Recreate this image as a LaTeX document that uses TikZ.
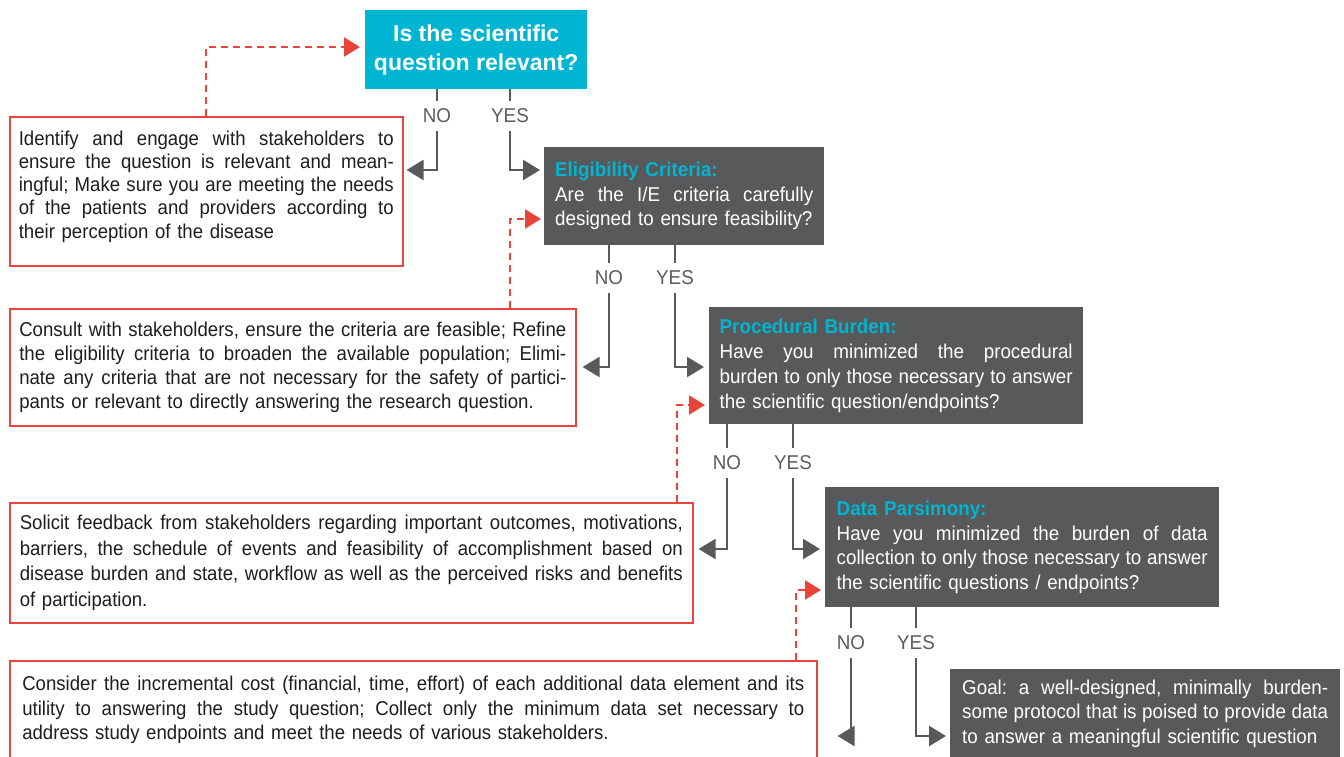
\documentclass[tikz,border=0pt]{standalone}
\usepackage{fontspec}
\setmainfont{Liberation Sans}[FakeStretch=0.94]
\newfontfamily\redfont{Liberation Sans}[FakeStretch=0.93]
\newfontfamily\titlefont{Liberation Sans}
\usetikzlibrary{arrows.meta,calc}
\definecolor{ccyan}{RGB}{0,181,209}
\definecolor{cgray}{RGB}{88,89,91}
\definecolor{clab}{RGB}{92,92,92}
\definecolor{cred}{RGB}{234,67,58}
\definecolor{ctext}{RGB}{30,30,30}
\frenchspacing
\newlength\jwidth
\newcommand\jline[1]{\makebox[\jwidth][s]{\frenchspacing\spaceskip=0pt\xspaceskip=0pt\relax #1}}
\begin{document}
\begin{tikzpicture}[x=1pt,y=-1pt,
  jw/.code={\setlength\jwidth{#1}},
  tw/.style={text width=#1, jw=#1},
  redbox/.style={draw=cred, line width=1.6pt, anchor=north west, inner xsep=9pt, inner ysep=0pt, align=left, text=ctext},
  graybox/.style={fill=cgray, anchor=north west, inner xsep=11pt, inner ysep=0pt, align=left, text=white},
  yn/.style={text=clab, font=\fontsize{20}{24}\selectfont, inner sep=0pt, minimum height=30pt},
  stem/.style={draw=cgray, line width=2.4pt},
  flow/.style={draw=cgray, line width=2.4pt, -{Triangle[length=17pt,width=20pt]}},
  fb/.style={draw=cred, line width=2pt, dash pattern=on 7pt off 5pt, -{Triangle[length=16pt,width=19pt]}}
]
\useasboundingbox (0,0) rectangle (1344,756);
\fill[white] (0,0) rectangle (1344,756);

% top question
\node[fill=ccyan, anchor=north west, minimum width=222pt, minimum height=79pt, inner sep=0pt,
      text=white, align=center, font=\titlefont\bfseries\fontsize{23}{29}\selectfont]
  (top) at (365,10) {Is the scientific\\question relevant?};

% red boxes
\node[redbox, tw=375pt, minimum height=149pt, font=\redfont\fontsize{20}{23.25}\selectfont] (rb1) at (9,116)
 {\jline{Identify and engage with stakeholders to}\\
  \jline{ensure the question is relevant and mean-}\\
  \jline{ingful; Make sure you are meeting the needs}\\
  \jline{of the patients and providers according to}\\
  their perception of the disease\rule[-14pt]{0pt}{1pt}};

\node[redbox, inner xsep=9.5pt, tw=547pt, minimum height=117pt, font=\redfont\fontsize{20}{24}\selectfont] (rb2) at (9,308)
 {\jline{Consult with stakeholders, ensure the criteria are feasible; Refine}\\
  \jline{the eligibility criteria to broaden the available population; Elimi-}\\
  \jline{nate any criteria that are not necessary for the safety of partici-}\\
  pants or relevant to directly answering the research question.};

\node[redbox, inner xsep=10pt, tw=663pt, minimum height=120pt, font=\redfont\fontsize{20}{25.6}\selectfont] (rb3) at (9,502)
 {\jline{Solicit feedback from stakeholders regarding important outcomes, motivations,}\\
  \jline{barriers, the schedule of events and feasibility of accomplishment based on}\\
  \jline{disease burden and state, workflow as well as the perceived risks and benefits}\\
  of participation.};

\node[redbox, inner xsep=12.5pt, tw=782pt, minimum height=99pt, font=\redfont\fontsize{20}{24.5}\selectfont] (rb4) at (9,660)
 {\jline{Consider the incremental cost (financial, time, effort) of each additional data element and its}\\
  \jline{utility to answering the study question; Collect only the minimum data set necessary to}\\
  address study endpoints and meet the needs of various stakeholders.};

% gray boxes
\node[graybox, tw=258pt, minimum height=98pt, font=\fontsize{20}{24.5}\selectfont] (gb1) at (544,147)
 {{\bfseries\color{ccyan}Eligibility Criteria:}\\
  \jline{Are the I/E criteria carefully}\\
  designed to ensure feasibility?};

\node[graybox, inner xsep=10.5pt, tw=353pt, minimum height=117pt, font=\fontsize{20}{25}\selectfont] (gb2) at (709,307)
 {{\bfseries\color{ccyan}Procedural Burden:}\\
  \jline{Have you minimized the procedural}\\
  \jline{burden to only those necessary to answer}\\
  the scientific question/endpoints?};

\node[graybox, inner xsep=11.5pt, tw=371pt, minimum height=120pt, font=\fontsize{20}{24.5}\selectfont] (gb3) at (825,487)
 {{\bfseries\color{ccyan}Data Parsimony:}\\
  \jline{Have you minimized the burden of data}\\
  \jline{collection to only those necessary to answer}\\
  the scientific questions / endpoints?};

\node[graybox, inner xsep=12pt, tw=366pt, minimum height=89pt, font=\fontsize{20}{24.5}\selectfont] (gb4) at (950,669)
 {\jline{Goal: a well-designed, minimally burden-}\\
  \jline{some protocol that is poised to provide data}\\
  to answer a meaningful scientific question};

% YES / NO labels
\node[yn] (n1) at (437,116) {NO};
\node[yn] (y1) at (510,116) {YES};
\node[yn] (n2) at (609,278) {NO};
\node[yn] (y2) at (675,278) {YES};
\node[yn] (n3) at (727,463) {NO};
\node[yn] (y3) at (793,463) {YES};
\node[yn] (n4) at (851,643) {NO};
\node[yn] (y4) at (916,643) {YES};

% stems
\draw[stem] (top.south -| n1) -- (n1.north);
\draw[stem] (top.south -| y1) -- (y1.north);
\draw[stem] (gb1.south -| n2) -- (n2.north);
\draw[stem] (gb1.south -| y2) -- (y2.north);
\draw[stem] (gb2.south -| n3) -- (n3.north);
\draw[stem] (gb2.south -| y3) -- (y3.north);
\draw[stem] (gb3.south -| n4) -- (n4.north);
\draw[stem] (gb3.south -| y4) -- (y4.north);

% flow arrows
\draw[flow] (n1.south) |- ($(rb1.north east)+(3,54)$);
\draw[flow] (y1.south) |- ($(gb1.north west)+(-4,23)$);
\draw[flow] (n2.south) |- ($(rb2.north east)+(6,59)$);
\draw[flow] (y2.south) |- ($(gb2.north west)+(-5,60)$);
\draw[flow] (n3.south) |- ($(rb3.north east)+(5,47)$);
\draw[flow] (y3.south) |- ($(gb3.north west)+(-5,62)$);
\draw[flow] (n4.south) |- ($(rb4.north east)+(20,76)$);
\draw[flow] (y4.south) |- ($(gb4.north west)+(-4,67)$);

% feedback (dashed red)
\draw[fb] (rb1.north) |- ($(top.north west)+(-5,37)$);
\draw[fb] ($(rb2.north west)+(501,0)$) |- ($(gb1.north west)+(-3,72)$);
\draw[fb] ($(rb3.north west)+(668,0)$) |- ($(gb2.north west)+(-4,98)$);
\draw[fb] ($(rb4.north west)+(787,0)$) |- ($(gb3.north west)+(-4,103)$);
\end{tikzpicture}
\end{document}
